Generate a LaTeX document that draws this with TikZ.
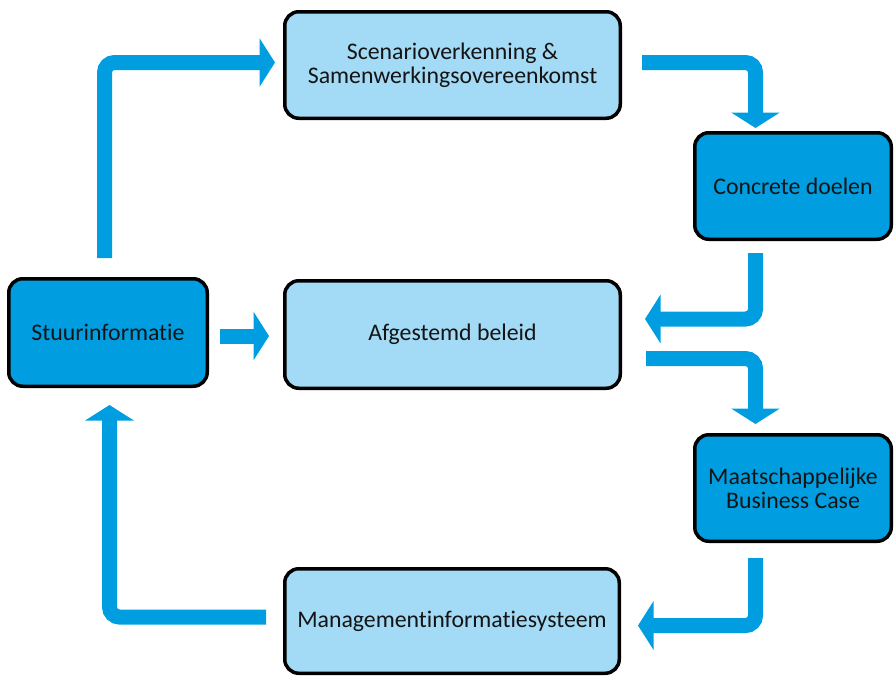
\documentclass[tikz,border=0pt]{standalone}
\usepackage{fontspec}
\setmainfont[Ligatures={NoCommon}]{Carlito}
\usetikzlibrary{arrows.meta}
\definecolor{darkbox}{HTML}{009EE0}
\definecolor{lightbox}{HTML}{A3DAF5}
\definecolor{arrowblue}{HTML}{009EE0}
\definecolor{txt}{HTML}{141414}
\begin{document}
\begin{tikzpicture}[x=1pt,y=-1pt,
  box/.style={draw=black, line width=3.5pt, rounded corners=14pt, inner sep=0pt,
    align=center, text=txt, font=\fontsize{23.8}{24}\selectfont},
  lightbx/.style={box, fill=lightbox},
  darkbx/.style={box, fill=darkbox},
  flow/.style={draw=arrowblue, line width=15pt, rounded corners=10pt,
    -{Triangle[length=15.5pt,width=48pt]}},
]
\useasboundingbox (0,0) rectangle (894,678);

\node[lightbx, minimum width=335.5pt, minimum height=106.5pt] (scen) at (452.5,65)
  {Scenarioverkenning \&\\Samenwerkingsovereenkomst};
\node[darkbx, minimum width=196.5pt, minimum height=106.5pt] (conc) at (793,186)
  {Concrete doelen};
\node[darkbx, minimum width=198.5pt, minimum height=107.5pt] (stuur) at (108,332.5)
  {Stuurinformatie};
\node[lightbx, minimum width=335.5pt, minimum height=107.5pt] (afg) at (452.5,334.5)
  {Afgestemd beleid};
\node[darkbx, minimum width=196.5pt, minimum height=106.5pt] (bus) at (793,488)
  {Maatschappelijke\\Business Case};
\node[lightbx, minimum width=334.5pt, minimum height=104.5pt] (man) at (452,621)
  {Managementinformatiesysteem};

% connector end points
\coordinate (s1) at (104.5,258);  \coordinate (e1) at (275,62.5);
\coordinate (s2) at (642,62.5);   \coordinate (e2) at (755.5,128);
\coordinate (s3) at (755.5,253);  \coordinate (e3) at (645,319);
\coordinate (s4) at (220,336);    \coordinate (e4) at (269,336);
\coordinate (s5) at (646,358.5);  \coordinate (e5) at (755.5,424);
\coordinate (s6) at (755.5,558);  \coordinate (e6) at (638,625.5);
\coordinate (s7) at (266,617);    \coordinate (e7) at (109.5,405);

\draw[flow] (s1) |- (e1);
\draw[flow] (s2) -| (e2);
\draw[flow] (s3) |- (e3);
\draw[flow] (s4) -- (e4);
\draw[flow] (s5) -| (e5);
\draw[flow] (s6) |- (e6);
\draw[flow] (s7) -| (e7);
\end{tikzpicture}
\end{document}
